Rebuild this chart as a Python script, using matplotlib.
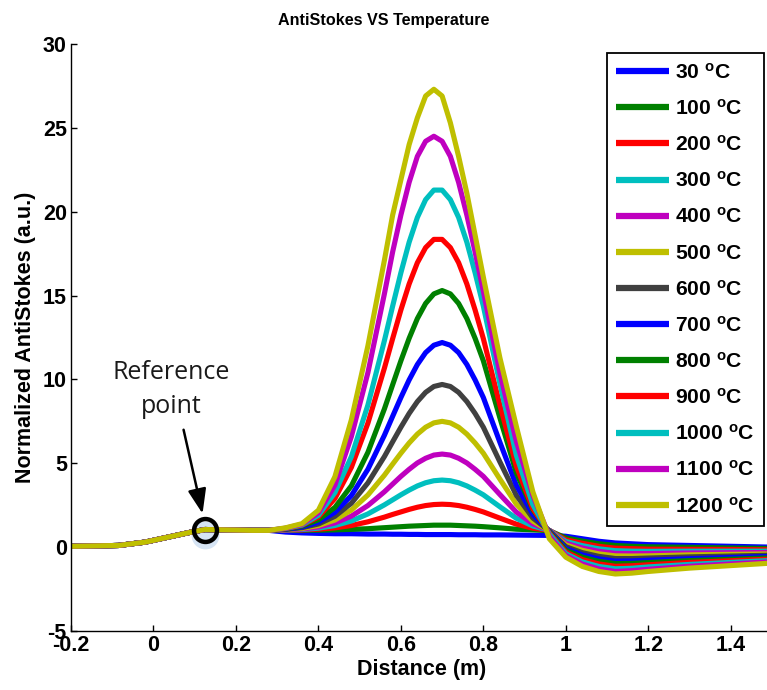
import matplotlib
matplotlib.use("Agg")
import matplotlib.pyplot as plt

plt.rcParams['font.family'] = ['Liberation Sans', 'DejaVu Sans']
plt.rcParams['font.weight'] = 'bold'
plt.rcParams['axes.unicode_minus'] = False
plt.rcParams['mathtext.fontset'] = 'custom'
plt.rcParams['mathtext.rm'] = 'Liberation Sans:bold'
plt.rcParams['mathtext.it'] = 'Liberation Sans:bold'
plt.rcParams['mathtext.bf'] = 'Liberation Sans:bold'

# shared leading section of every trace (fibre before the heated zone)
x_lead = [-0.2, -0.085, -0.02, 0.036, 0.092, 0.125, 0.2, 0.24]
y_lead = [0.05, 0.1, 0.3, 0.6, 0.9, 1.05, 1.02, 1.0]

# positions along the heated section and after it
x_hot = [0.28, 0.32, 0.36, 0.40, 0.44, 0.48, 0.52, 0.56, 0.58, 0.60, 0.62, 0.64,
         0.66, 0.68, 0.70, 0.72, 0.74, 0.76, 0.78, 0.80, 0.84, 0.88, 0.92, 0.96]
x_tail = [1.00, 1.04, 1.08, 1.12, 1.16, 1.20, 1.30, 1.40, 1.50]

temperatures = [30, 100, 200, 300, 400, 500, 600, 700, 800, 900, 1000, 1100, 1200]

t30 = [1.0, 0.9, 0.85, 0.82, 0.8, 0.8, 0.78, 0.78, 0.77, 0.77, 0.76, 0.76,
       0.75, 0.75, 0.75, 0.75, 0.74, 0.74, 0.74, 0.73, 0.73, 0.72, 0.71, 0.70,
       0.65, 0.5, 0.35, 0.25, 0.2, 0.15, 0.1, 0.05, 0.0]
t100 = [1.0, 1.0, 1.01, 1.01, 1.03, 1.06, 1.1, 1.16, 1.19, 1.22, 1.25, 1.27,
        1.29, 1.31, 1.31, 1.31, 1.29, 1.27, 1.25, 1.22, 1.15, 1.07, 1.03, 0.98,
        0.55, 0.36, 0.2, 0.1, 0.05, 0.02, -0.01, -0.05, -0.08]
t200 = [1.0, 1.01, 1.03, 1.07, 1.15, 1.29, 1.51, 1.79, 1.95, 2.1, 2.25, 2.38,
        2.48, 2.54, 2.56, 2.54, 2.48, 2.38, 2.25, 2.1, 1.73, 1.37, 1.13, 1.0,
        0.44, 0.23, 0.05, -0.06, -0.09, -0.12, -0.13, -0.14, -0.16]
t300 = [1.0, 1.02, 1.05, 1.13, 1.29, 1.56, 1.98, 2.52, 2.82, 3.12, 3.4, 3.65,
        3.84, 3.96, 4.0, 3.96, 3.84, 3.65, 3.4, 3.12, 2.41, 1.72, 1.26, 1.0,
        0.34, 0.09, -0.1, -0.21, -0.24, -0.25, -0.24, -0.24, -0.24]
t400 = [1.0, 1.03, 1.08, 1.2, 1.44, 1.85, 2.48, 3.3, 3.76, 4.22, 4.64, 5.02,
        5.3, 5.49, 5.55, 5.49, 5.3, 5.02, 4.64, 4.22, 3.14, 2.09, 1.39, 1.0,
        0.23, -0.05, -0.25, -0.37, -0.38, -0.38, -0.35, -0.33, -0.32]
t500 = [1.0, 1.05, 1.12, 1.29, 1.62, 2.21, 3.11, 4.29, 4.95, 5.6, 6.21, 6.74,
        7.15, 7.41, 7.5, 7.41, 7.15, 6.74, 6.21, 5.6, 4.06, 2.56, 1.55, 0.98,
        0.13, -0.19, -0.4, -0.52, -0.53, -0.52, -0.46, -0.43, -0.40]
t600 = [1.0, 1.06, 1.16, 1.38, 1.84, 2.62, 3.83, 5.4, 6.28, 7.15, 7.97, 8.68,
        9.23, 9.58, 9.7, 9.58, 9.23, 8.68, 7.97, 7.15, 5.09, 3.09, 1.74, 0.97,
        0.03, -0.33, -0.55, -0.68, -0.68, -0.65, -0.58, -0.53, -0.48]
t700 = [1.0, 1.07, 1.2, 1.49, 2.08, 3.08, 4.64, 6.67, 7.8, 8.92, 9.97, 10.89,
        11.6, 12.04, 12.2, 12.04, 11.6, 10.89, 9.97, 8.92, 6.26, 3.69, 1.95, 0.95,
        -0.08, -0.46, -0.7, -0.83, -0.82, -0.78, -0.69, -0.62, -0.55]
t800 = [1.0, 1.08, 1.26, 1.63, 2.37, 3.66, 5.65, 8.24, 9.68, 11.11, 12.45, 13.63,
        14.53, 15.1, 15.3, 15.1, 14.53, 13.63, 12.45, 11.11, 7.72, 4.43, 2.22, 0.9,
        -0.18, -0.6, -0.85, -0.98, -0.97, -0.92, -0.80, -0.72, -0.63]
t900 = [1.0, 1.1, 1.3, 1.8, 2.9, 4.76, 7.39, 10.67, 12.43, 14.14, 15.69, 16.96,
        17.86, 18.35, 18.35, 17.86, 16.96, 15.69, 14.14, 12.43, 8.48, 4.83, 2.3, 0.85,
        -0.29, -0.74, -1.0, -1.14, -1.11, -1.05, -0.91, -0.81, -0.71]
t1000 = [1.0, 1.12, 1.32, 1.9, 3.25, 5.4, 8.47, 12.31, 14.37, 16.36, 18.18, 19.66,
         20.72, 21.29, 21.29, 20.72, 19.66, 18.18, 16.36, 14.37, 9.75, 5.48, 2.53, 0.78,
         -0.39, -0.88, -1.15, -1.29, -1.26, -1.18, -1.03, -0.91, -0.79]
t1100 = [1.0, 1.13, 1.36, 2.05, 3.7, 6.6, 10.4, 15.1, 17.6, 19.8, 21.75, 23.3,
         24.2, 24.5, 24.2, 23.3, 21.75, 19.8, 17.6, 15.26, 10.4, 6.3, 3.1, 0.65,
         -0.5, -1.01, -1.3, -1.45, -1.40, -1.32, -1.14, -1.0, -0.87]
t1200 = [1.0, 1.15, 1.4, 2.2, 4.2, 7.6, 12.0, 17.1, 19.8, 21.9, 24.0, 25.6,
         26.9, 27.3, 26.9, 25.3, 23.3, 21.1, 18.6, 16.1, 11.3, 7.2, 3.3, 0.5,
         -0.6, -1.15, -1.45, -1.6, -1.55, -1.45, -1.25, -1.1, -0.95]

series = [t30, t100, t200, t300, t400, t500, t600, t700, t800, t900, t1000, t1100, t1200]

colors = [(0, 0, 1), (0, 0.5, 0), (1, 0, 0), (0, 0.75, 0.75), (0.75, 0, 0.75),
          (0.75, 0.75, 0), (0.25, 0.25, 0.25), (0, 0, 1), (0, 0.5, 0), (1, 0, 0),
          (0, 0.75, 0.75), (0.75, 0, 0.75), (0.75, 0.75, 0)]

x_ticks = [-0.2, 0, 0.2, 0.4, 0.6, 0.8, 1.0, 1.2, 1.4]
x_tick_labels = ['-0.2', '0', '0.2', '0.4', '0.6', '0.8', '1', '1.2', '1.4']
y_ticks = [-5, 0, 5, 10, 15, 20, 25, 30]

ref_x, ref_y = 0.126, 1.05
note_x, note_y = 0.044, 9.4
arrow_tail = (0.073, 7.0)
arrow_tip = (0.119, 2.0)

W, H = 767, 690
fig = plt.figure(figsize=(W / 100, H / 100), dpi=100)
ax = fig.add_axes([71 / W, 1 - 631 / H, (772 - 71) / W, (631 - 44) / H])

x_full = x_lead + x_hot + x_tail
for temp, vals, col in zip(temperatures, series, colors):
    ax.plot(x_full, y_lead + vals, color=col, lw=3.7, solid_capstyle='butt',
            solid_joinstyle='round', label=f'{temp} $^{{\\rm o}}$C', zorder=2)

# reference marker with its soft halo
ax.plot(ref_x, ref_y - 0.3, 'o', ms=19, mfc='#d6e4f4', mec='#d6e4f4', zorder=1.5)
ax.plot(ref_x, ref_y, 'o', ms=16.5, mfc='none', mec='black', mew=3.2, zorder=5)
ax.annotate('', xy=arrow_tip, xytext=arrow_tail,
            arrowprops=dict(arrowstyle='-|>,head_length=0.75,head_width=0.28',
                            mutation_scale=20, lw=1.8, color='black',
                            shrinkA=0, shrinkB=0), zorder=6)
ax.text(note_x, note_y, 'Reference\npoint', ha='center', va='center',
        fontsize=18, fontweight='normal', family=['Open Sans', 'DejaVu Sans'],
        linespacing=1.5, color='#1a1a1a')

ax.set_xlim(-0.2, 1.5)
ax.set_ylim(-5, 30)
ax.set_xticks(x_ticks)
ax.set_xticklabels(x_tick_labels)
ax.set_yticks(y_ticks)
ax.tick_params(direction='in', length=4, width=1, labelsize=15.5, pad=3)
for side in ('top', 'right'):
    ax.spines[side].set_visible(False)
for side in ('left', 'bottom'):
    ax.spines[side].set_linewidth(1.0)

ax.set_xlabel('Distance (m)', fontsize=15.5, fontweight='bold', labelpad=2)
ax.set_ylabel('Normalized AntiStokes (a.u.)', fontsize=15.5, fontweight='bold', labelpad=5)
fig.text(0.5, 1 - 21 / H, 'AntiStokes VS Temperature', ha='center', va='center',
         fontsize=11.6, fontweight='bold')

leg = ax.legend(loc='upper right', bbox_to_anchor=(764 / W, 1 - 53 / H),
                bbox_transform=fig.transFigure, borderaxespad=0, fontsize=15.2,
                handlelength=2.5, handletextpad=0.3, labelspacing=0.765,
                borderpad=0.45, fancybox=False, framealpha=1, edgecolor='black')
leg.get_frame().set_linewidth(1.3)
for h in leg.get_lines():
    h.set_linewidth(4.5)

fig.savefig('out.png', dpi=100)
